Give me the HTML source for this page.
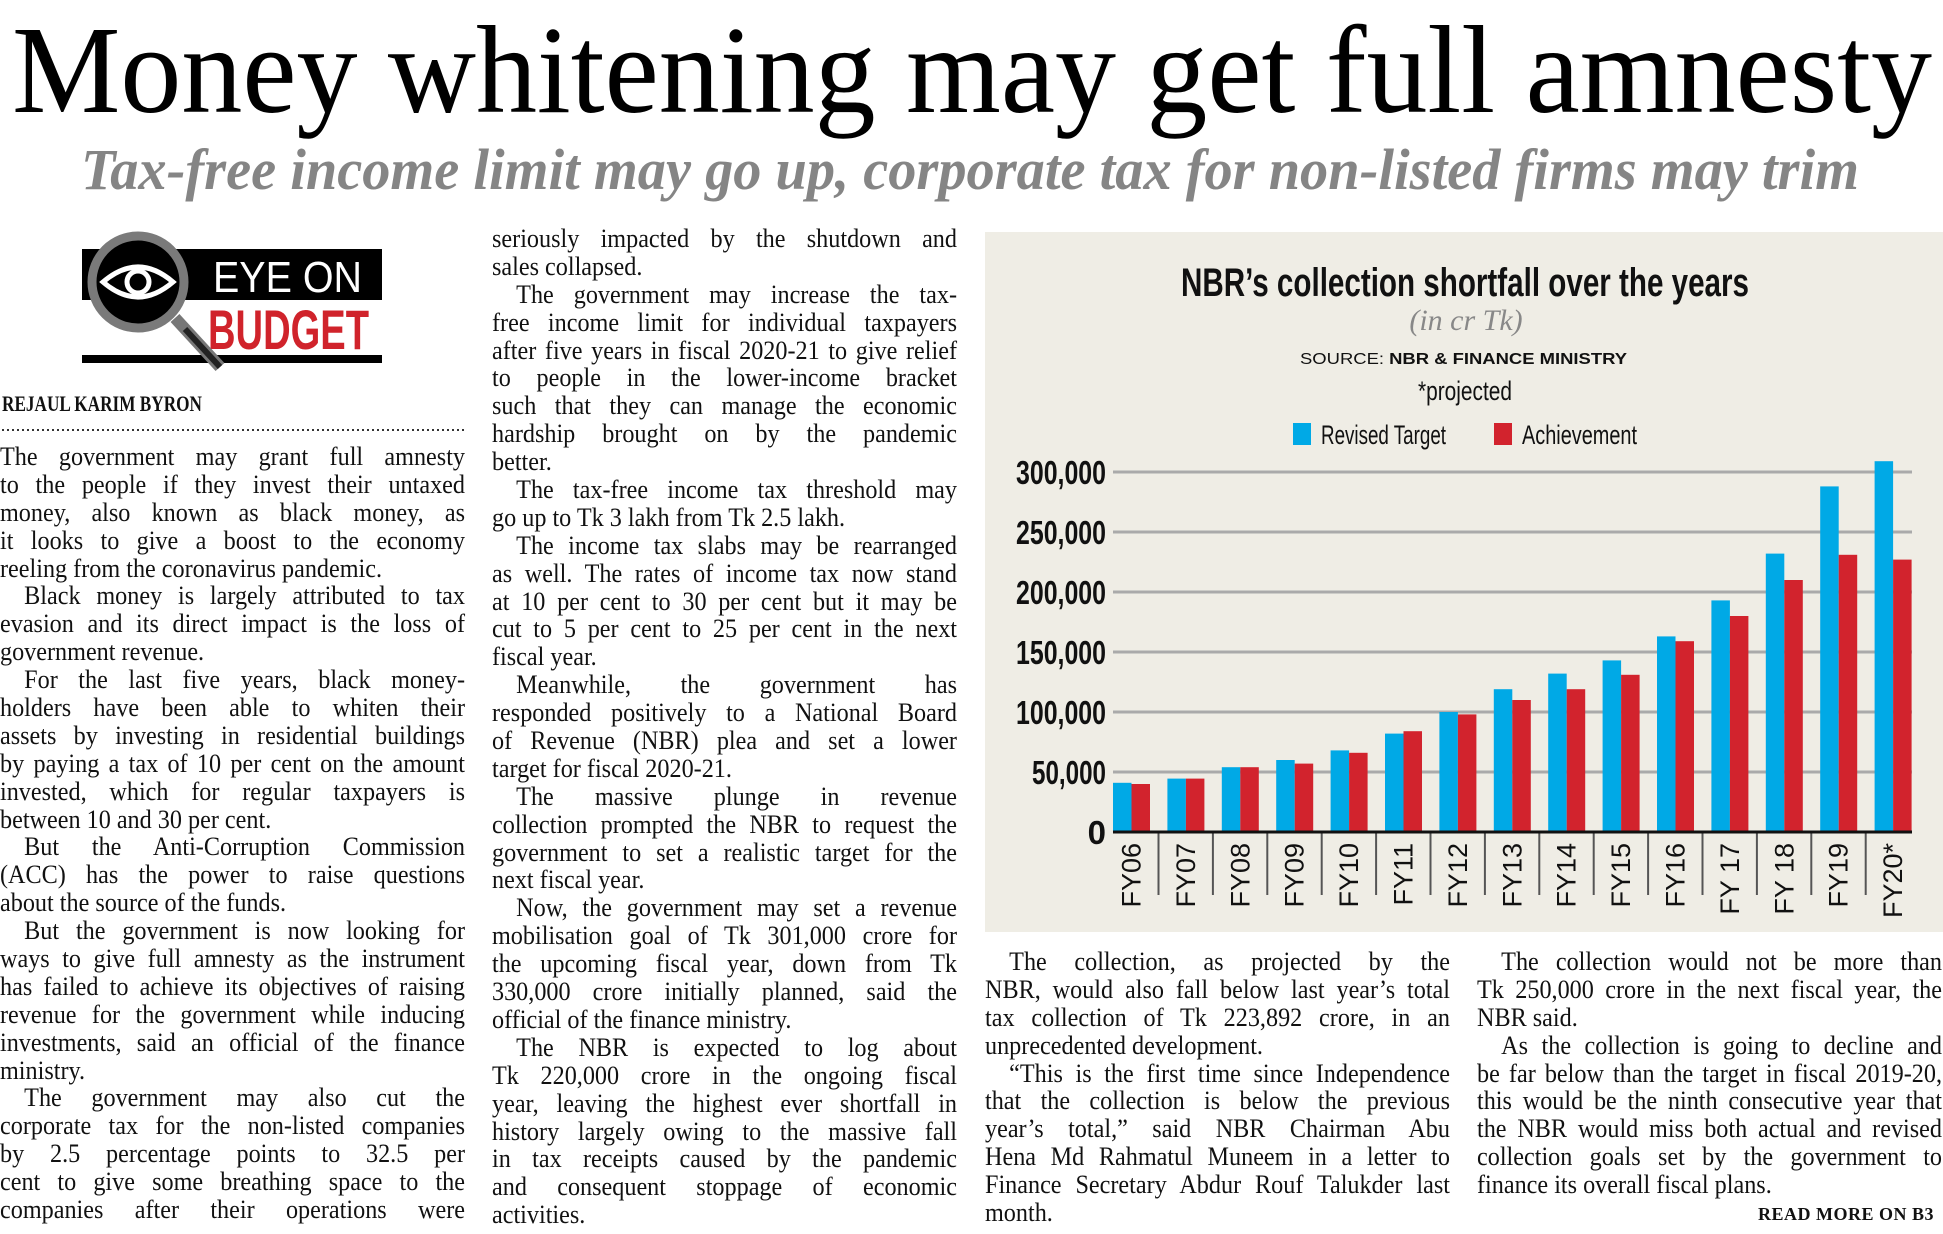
<!DOCTYPE html>
<html><head><meta charset="utf-8"><style>
body{margin:0;width:1943px;height:1234px;background:#fff;position:relative;overflow:hidden;font-family:"Liberation Serif",serif;}
svg{position:absolute;left:0;top:0}
.col{position:absolute;width:500px;transform:scale(0.93,1);transform-origin:0 0;font-size:26px;color:#111;}
.col div{height:27.9px;line-height:27.9px;text-align:justify;text-align-last:justify;white-space:nowrap;}
.col div.l{text-align-last:left;}
.col div.i{text-indent:26px;}
</style></head><body>
<svg width="1943" height="1234" xmlns="http://www.w3.org/2000/svg">
<text x="12" y="112" font-family="Liberation Serif" font-size="125" textLength="1920" lengthAdjust="spacingAndGlyphs" fill="#000">Money whitening may get full amnesty</text>
<text x="81" y="189" font-family="Liberation Serif" font-size="58" font-style="italic" font-weight="bold" textLength="1778" lengthAdjust="spacingAndGlyphs" fill="#858585">Tax-free income limit may go up, corporate tax for non-listed firms may trim</text>
<rect x="82" y="249" width="300" height="51" fill="#000"/>
<text x="213" y="292" font-family="Liberation Sans" font-size="44" fill="#fff" textLength="149" lengthAdjust="spacingAndGlyphs">EYE ON</text>
<text x="208" y="349" font-family="Liberation Sans" font-weight="bold" font-size="56" fill="#d0232b" textLength="161" lengthAdjust="spacingAndGlyphs">BUDGET</text>
<rect x="82" y="355" width="300" height="8" fill="#000"/>
<line x1="175" y1="318" x2="220" y2="367" stroke="#777" stroke-width="12"/>
<line x1="185" y1="329" x2="220" y2="367" stroke="#222" stroke-width="6"/>
<circle cx="138" cy="282" r="46" fill="#000" stroke="#7a7a7a" stroke-width="9"/>
<path d="M103 282 Q138 252 173 282 Q138 312 103 282Z" fill="none" stroke="#fff" stroke-width="5"/>
<circle cx="138" cy="282" r="11" fill="none" stroke="#fff" stroke-width="5"/>
<text x="2" y="411" font-family="Liberation Serif" font-weight="bold" font-size="22" fill="#111" textLength="200" lengthAdjust="spacingAndGlyphs">REJAUL KARIM BYRON</text>
<line x1="2" y1="430" x2="465" y2="430" stroke="#333" stroke-width="2" stroke-dasharray="2,3"/>
<rect x="985" y="232" width="958" height="700" fill="#efede5"/>
<text x="1181" y="296" font-family="Liberation Sans" font-weight="bold" font-size="40" textLength="568" lengthAdjust="spacingAndGlyphs" fill="#111">NBR’s collection shortfall over the years</text>
<text x="1466" y="330" text-anchor="middle" font-family="Liberation Serif" font-style="italic" font-size="30" fill="#888">(in cr Tk)</text>
<text x="1300" y="364" font-family="Liberation Sans" font-size="16" textLength="327" lengthAdjust="spacingAndGlyphs" fill="#111">SOURCE: <tspan font-weight="bold">NBR &amp; FINANCE MINISTRY</tspan></text>
<text x="1418" y="400" font-family="Liberation Sans" font-size="27" textLength="94" lengthAdjust="spacingAndGlyphs" fill="#111">*projected</text>
<rect x="1293" y="423" width="18" height="22" fill="#00a9e6"/>
<text x="1321" y="444" font-family="Liberation Sans" font-size="27" textLength="125" lengthAdjust="spacingAndGlyphs" fill="#111">Revised Target</text>
<rect x="1494" y="423" width="18" height="22" fill="#d2232d"/>
<text x="1522" y="444" font-family="Liberation Sans" font-size="27" textLength="115" lengthAdjust="spacingAndGlyphs" fill="#111">Achievement</text>
<g stroke="#aaa" stroke-width="3">
<line x1="1113" y1="472" x2="1912" y2="472"/><line x1="1113" y1="532" x2="1912" y2="532"/><line x1="1113" y1="592" x2="1912" y2="592"/><line x1="1113" y1="652" x2="1912" y2="652"/><line x1="1113" y1="712" x2="1912" y2="712"/><line x1="1113" y1="772" x2="1912" y2="772"/>
</g>
<g font-family="Liberation Sans" font-weight="bold" font-size="33" fill="#111" text-anchor="end">
<text x="1106" y="484" textLength="90" lengthAdjust="spacingAndGlyphs">300,000</text>
<text x="1106" y="544" textLength="90" lengthAdjust="spacingAndGlyphs">250,000</text>
<text x="1106" y="604" textLength="90" lengthAdjust="spacingAndGlyphs">200,000</text>
<text x="1106" y="664" textLength="90" lengthAdjust="spacingAndGlyphs">150,000</text>
<text x="1106" y="724" textLength="90" lengthAdjust="spacingAndGlyphs">100,000</text>
<text x="1106" y="784" textLength="74" lengthAdjust="spacingAndGlyphs">50,000</text>
<text x="1106" y="844">0</text>
</g>
<g id="bars"></g>
<line x1="1113" y1="832" x2="1912" y2="832" stroke="#111" stroke-width="3"/>
<g id="xl" font-family="Liberation Sans" font-size="27" fill="#111"></g>
</svg>
<script>
var v=[[41,40],[44.5,44.5],[54,54],[60,57],[68,66],[82,84],[100,98],[119,110],[132,119],[143,131],[163,159],[193,180],[232,210],[288,231],[309,227]];
var lb=["FY06","FY07","FY08","FY09","FY10","FY11","FY12","FY13","FY14","FY15","FY16","FY 17","FY 18","FY19","FY20*"];
var s="",t="";
for(var i=0;i<15;i++){var x=1113+i*54.4;
var hb=v[i][0]*1.2,hr=v[i][1]*1.2;
s+='<rect x="'+x+'" y="'+(832-hb)+'" width="18.5" height="'+hb+'" fill="#00a9e6"/>';
s+='<rect x="'+(x+18.5)+'" y="'+(832-hr)+'" width="18.5" height="'+hr+'" fill="#d2232d"/>';
if(i<14)s+='<line x1="'+(x+45.5)+'" y1="832" x2="'+(x+45.5)+'" y2="895" stroke="#555" stroke-width="2"/>';
var cx=x+18.5+9;
t+='<text x="'+cx+'" y="843" text-anchor="end" transform="rotate(-90 '+cx+' 843)">'+lb[i]+'</text>';}
document.getElementById("bars").innerHTML=s;document.getElementById("xl").innerHTML=t;
</script>
<div class="col" style="left:0;top:443px">
<div>The government may grant full amnesty</div>
<div>to the people if they invest their untaxed</div>
<div>money, also known as black money, as</div>
<div>it looks to give a boost to the economy</div>
<div class="l">reeling from the coronavirus pandemic.</div>
<div class="i">Black money is largely attributed to tax</div>
<div>evasion and its direct impact is the loss of</div>
<div class="l">government revenue.</div>
<div class="i">For the last five years, black money-</div>
<div>holders have been able to whiten their</div>
<div>assets by investing in residential buildings</div>
<div>by paying a tax of 10 per cent on the amount</div>
<div>invested, which for regular taxpayers is</div>
<div class="l">between 10 and 30 per cent.</div>
<div class="i">But the Anti-Corruption Commission</div>
<div>(ACC) has the power to raise questions</div>
<div class="l">about the source of the funds.</div>
<div class="i">But the government is now looking for</div>
<div>ways to give full amnesty as the instrument</div>
<div>has failed to achieve its objectives of raising</div>
<div>revenue for the government while inducing</div>
<div>investments, said an official of the finance</div>
<div class="l">ministry.</div>
<div class="i">The government may also cut the</div>
<div>corporate tax for the non-listed companies</div>
<div>by 2.5 percentage points to 32.5 per</div>
<div>cent to give some breathing space to the</div>
<div>companies after their operations were</div>
</div>
<div class="col" style="left:492px;top:225px">
<div>seriously impacted by the shutdown and</div>
<div class="l">sales collapsed.</div>
<div class="i">The government may increase the tax-</div>
<div>free income limit for individual taxpayers</div>
<div>after five years in fiscal 2020-21 to give relief</div>
<div>to people in the lower-income bracket</div>
<div>such that they can manage the economic</div>
<div>hardship brought on by the pandemic</div>
<div class="l">better.</div>
<div class="i">The tax-free income tax threshold may</div>
<div class="l">go up to Tk 3 lakh from Tk 2.5 lakh.</div>
<div class="i">The income tax slabs may be rearranged</div>
<div>as well. The rates of income tax now stand</div>
<div>at 10 per cent to 30 per cent but it may be</div>
<div>cut to 5 per cent to 25 per cent in the next</div>
<div class="l">fiscal year.</div>
<div class="i">Meanwhile, the government has</div>
<div>responded positively to a National Board</div>
<div>of Revenue (NBR) plea and set a lower</div>
<div class="l">target for fiscal 2020-21.</div>
<div class="i">The massive plunge in revenue</div>
<div>collection prompted the NBR to request the</div>
<div>government to set a realistic target for the</div>
<div class="l">next fiscal year.</div>
<div class="i">Now, the government may set a revenue</div>
<div>mobilisation goal of Tk 301,000 crore for</div>
<div>the upcoming fiscal year, down from Tk</div>
<div>330,000 crore initially planned, said the</div>
<div class="l">official of the finance ministry.</div>
<div class="i">The NBR is expected to log about</div>
<div>Tk 220,000 crore in the ongoing fiscal</div>
<div>year, leaving the highest ever shortfall in</div>
<div>history largely owing to the massive fall</div>
<div>in tax receipts caused by the pandemic</div>
<div>and consequent stoppage of economic</div>
<div class="l">activities.</div>
</div>
<div class="col" style="left:985px;top:948px">
<div class="i">The collection, as projected by the</div>
<div>NBR, would also fall below last year’s total</div>
<div>tax collection of Tk 223,892 crore, in an</div>
<div class="l">unprecedented development.</div>
<div class="i">“This is the first time since Independence</div>
<div>that the collection is below the previous</div>
<div>year’s total,” said NBR Chairman Abu</div>
<div>Hena Md Rahmatul Muneem in a letter to</div>
<div>Finance Secretary Abdur Rouf Talukder last</div>
<div class="l">month.</div>
</div>
<div class="col" style="left:1477px;top:948px">
<div class="i">The collection would not be more than</div>
<div>Tk 250,000 crore in the next fiscal year, the</div>
<div class="l">NBR said.</div>
<div class="i">As the collection is going to decline and</div>
<div>be far below than the target in fiscal 2019-20,</div>
<div>this would be the ninth consecutive year that</div>
<div>the NBR would miss both actual and revised</div>
<div>collection goals set by the government to</div>
<div class="l">finance its overall fiscal plans.</div>
</div>
<div style="position:absolute;left:1758px;top:1204px;font-size:18px;font-weight:bold;letter-spacing:0.5px;color:#111">READ MORE ON B3</div>
</body></html>
